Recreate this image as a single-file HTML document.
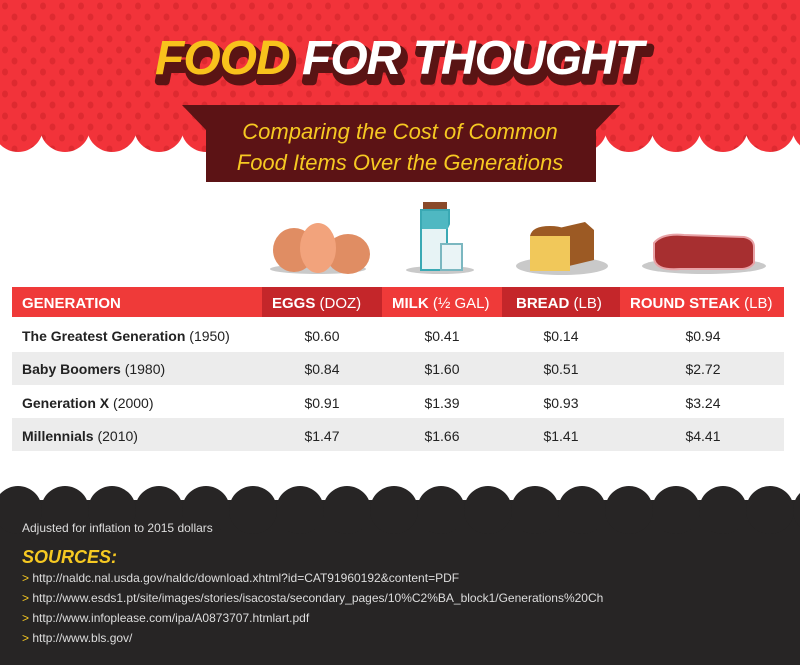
<!DOCTYPE html>
<html><head><meta charset="utf-8"><style>
body{margin:0;width:800px;height:665px;overflow:hidden;background:#fff;font-family:"Liberation Sans",sans-serif}
svg{display:block}
</style></head><body>
<svg width="800" height="665" viewBox="0 0 800 665" xmlns="http://www.w3.org/2000/svg" font-family="Liberation Sans, sans-serif">
<defs>
<pattern id="dots" width="19" height="22" patternUnits="userSpaceOnUse">
<rect width="19" height="22" fill="#f2333a"/>
<ellipse cx="5" cy="6" rx="3" ry="3.5" fill="#de2a30"/>
<ellipse cx="14.5" cy="17" rx="3" ry="3.5" fill="#de2a30"/>
</pattern>
</defs>
<rect x="0" y="0" width="800" height="135" fill="url(#dots)"/>
<g fill="url(#dots)">
<circle cx="18" cy="127" r="25"/><circle cx="65" cy="127" r="25"/><circle cx="112" cy="127" r="25"/><circle cx="159" cy="127" r="25"/><circle cx="206" cy="127" r="25"/><circle cx="253" cy="127" r="25"/><circle cx="300" cy="127" r="25"/><circle cx="347" cy="127" r="25"/><circle cx="394" cy="127" r="25"/><circle cx="441" cy="127" r="25"/><circle cx="488" cy="127" r="25"/><circle cx="535" cy="127" r="25"/><circle cx="582" cy="127" r="25"/><circle cx="629" cy="127" r="25"/><circle cx="676" cy="127" r="25"/><circle cx="723" cy="127" r="25"/><circle cx="770" cy="127" r="25"/><circle cx="817" cy="127" r="25"/>
</g>
<text x="158" y="81" font-size="48" font-weight="bold" font-style="italic" fill="#5a1414" stroke="#5a1414" stroke-width="8" stroke-linejoin="round" letter-spacing="-1">FOOD FOR THOUGHT</text>
<text x="155" y="74" font-size="48" font-weight="bold" font-style="italic" fill="#f8c21c" letter-spacing="-1">FOOD <tspan fill="#fff">FOR THOUGHT</tspan></text>
<polygon points="182,105 620,105 596,130 596,182 206,182 206,130" fill="#5c1315"/>
<text x="400" y="139" font-size="22" font-style="italic" fill="#f6c922" text-anchor="middle" font-family="Liberation Sans Narrow, Liberation Sans, sans-serif">Comparing the Cost of  Common</text>
<text x="400" y="170" font-size="22" font-style="italic" fill="#f6c922" text-anchor="middle" font-family="Liberation Sans Narrow, Liberation Sans, sans-serif">Food Items Over the Generations</text>
<ellipse cx="318" cy="269" rx="48" ry="5" fill="#c9c9c9"/>
<ellipse cx="294" cy="250" rx="21" ry="22" fill="#e08d63"/>
<ellipse cx="348" cy="254" rx="22" ry="20" fill="#e08d63"/>
<ellipse cx="318" cy="248" rx="18" ry="25" fill="#f2a37c"/>
<ellipse cx="440" cy="270" rx="34" ry="4" fill="#c9c9c9"/>
<rect x="423" y="202" width="24" height="8" fill="#8a4a2a"/>
<path d="M421 210h28v14l-2 4v42h-26z" fill="#e7f3f5" stroke="#3aa9b4" stroke-width="2"/>
<rect x="422" y="211" width="26" height="18" fill="#4fb8c2"/>
<rect x="441" y="244" width="21" height="26" fill="#eaf4f6" stroke="#7bb7c0" stroke-width="2"/>
<ellipse cx="562" cy="266" rx="46" ry="9" fill="#c9c9c9"/>
<path d="M533 234 L585 222 L594 230 L594 260 L548 271 L530 271 Z" fill="#9c5a24"/>
<rect x="530" y="236" width="40" height="35" fill="#f1c85a"/>
<path d="M530 236 q2 -10 20 -10 q18 0 20 10z" fill="#9c5a24"/>
<ellipse cx="704" cy="266" rx="62" ry="8" fill="#c9c9c9"/>
<path d="M654 243 q8 -10 30 -8 l60 2 q10 2 10 10 v16 q-4 6 -14 6 h-60 q-26 2 -26 -12z" fill="#a72f30" stroke="#e8a2a6" stroke-width="2"/>
<rect x="12" y="287" width="772" height="30" fill="#ef3a39"/>
<rect x="262" y="287" width="120" height="30" fill="#c4262a"/>
<rect x="502" y="287" width="118" height="30" fill="#c4262a"/>
<g font-size="15" fill="#fff" font-weight="bold">
<text x="22" y="308">GENERATION</text>
<text x="272" y="308">EGGS <tspan font-weight="normal">(DOZ)</tspan></text>
<text x="392" y="308">MILK <tspan font-weight="normal">(½ GAL)</tspan></text>
<text x="516" y="308">BREAD <tspan font-weight="normal">(LB)</tspan></text>
<text x="630" y="308">ROUND STEAK <tspan font-weight="normal">(LB)</tspan></text>
</g>
<rect x="12" y="352" width="772" height="33" fill="#ececec"/>
<rect x="12" y="418" width="772" height="33" fill="#ececec"/>
<g font-size="14" fill="#222">
<text x="22" y="341"><tspan font-weight="bold">The Greatest Generation</tspan> (1950)</text>
<text x="22" y="374"><tspan font-weight="bold">Baby Boomers</tspan> (1980)</text>
<text x="22" y="408"><tspan font-weight="bold">Generation X</tspan> (2000)</text>
<text x="22" y="441"><tspan font-weight="bold">Millennials</tspan> (2010)</text>
</g>
<g font-size="14" fill="#222" text-anchor="middle">
<text x="322" y="341">$0.60</text><text x="442" y="341">$0.41</text><text x="561" y="341">$0.14</text><text x="703" y="341">$0.94</text>
<text x="322" y="374">$0.84</text><text x="442" y="374">$1.60</text><text x="561" y="374">$0.51</text><text x="703" y="374">$2.72</text>
<text x="322" y="408">$0.91</text><text x="442" y="408">$1.39</text><text x="561" y="408">$0.93</text><text x="703" y="408">$3.24</text>
<text x="322" y="441">$1.47</text><text x="442" y="441">$1.66</text><text x="561" y="441">$1.41</text><text x="703" y="441">$4.41</text>
</g>
<rect x="0" y="500" width="800" height="165" fill="#272525"/>
<g fill="#272525">
<circle cx="18" cy="510" r="24"/><circle cx="65" cy="510" r="24"/><circle cx="112" cy="510" r="24"/><circle cx="159" cy="510" r="24"/><circle cx="206" cy="510" r="24"/><circle cx="253" cy="510" r="24"/><circle cx="300" cy="510" r="24"/><circle cx="347" cy="510" r="24"/><circle cx="394" cy="510" r="24"/><circle cx="441" cy="510" r="24"/><circle cx="488" cy="510" r="24"/><circle cx="535" cy="510" r="24"/><circle cx="582" cy="510" r="24"/><circle cx="629" cy="510" r="24"/><circle cx="676" cy="510" r="24"/><circle cx="723" cy="510" r="24"/><circle cx="770" cy="510" r="24"/><circle cx="817" cy="510" r="24"/>
</g>
<text x="22" y="532" font-size="12" fill="#ddd">Adjusted for inflation to 2015 dollars</text>
<text x="22" y="563" font-size="18" font-weight="bold" font-style="italic" fill="#f6c922">SOURCES:</text>
<g font-size="12" fill="#ddd">
<text x="22" y="582"><tspan fill="#f6c922">&gt;</tspan> http://naldc.nal.usda.gov/naldc/download.xhtml?id=CAT91960192&amp;content=PDF</text>
<text x="22" y="602"><tspan fill="#f6c922">&gt;</tspan> http://www.esds1.pt/site/images/stories/isacosta/secondary_pages/10%C2%BA_block1/Generations%20Ch</text>
<text x="22" y="622"><tspan fill="#f6c922">&gt;</tspan> http://www.infoplease.com/ipa/A0873707.htmlart.pdf</text>
<text x="22" y="642"><tspan fill="#f6c922">&gt;</tspan> http://www.bls.gov/</text>
</g>
</svg>
</body></html>
